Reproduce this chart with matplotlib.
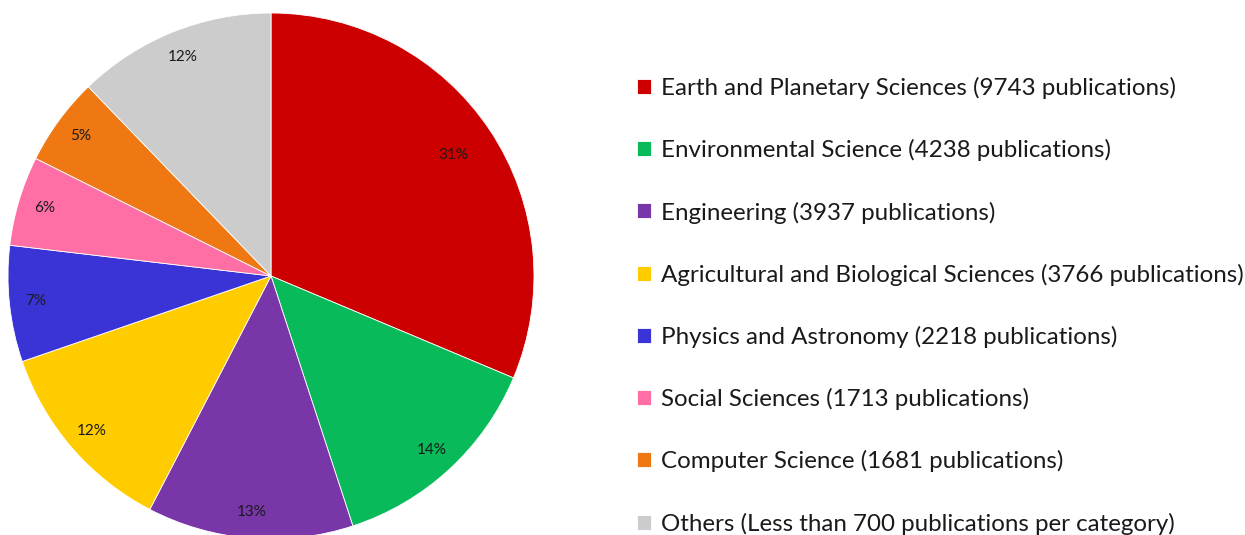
import matplotlib.pyplot as plt

categories = [
    "Earth and Planetary Sciences (9743 publications)",
    "Environmental Science (4238 publications)",
    "Engineering (3937 publications)",
    "Agricultural and Biological Sciences (3766 publications)",
    "Physics and Astronomy (2218 publications)",
    "Social Sciences (1713 publications)",
    "Computer Science (1681 publications)",
    "Others (Less than 700 publications per category)",
]
counts = [9743, 4238, 3937, 3766, 2218, 1713, 1681, 3800]
colors = ["#CC0000", "#08BA5A", "#7836A8", "#FFCC00", "#3A34D6", "#FF6FA6", "#F07812", "#CCCCCC"]

plt.rcParams['font.family'] = ['Lato', 'DejaVu Sans']

fig = plt.figure(figsize=(12.45, 5.35), dpi=100)
ax = fig.add_axes([8 / 1245, -4 / 535, 526 / 1245, 526 / 535])

wedges, texts, autotexts = ax.pie(
    counts, colors=colors, startangle=90, counterclock=False,
    autopct=lambda p: f"{p:.0f}%", pctdistance=0.9,
    wedgeprops=dict(edgecolor="white", linewidth=0.6),
    textprops=dict(fontsize=11, color="#1a1a1a"),
)
# the big slice label sits a bit further in
x, y = autotexts[0].get_position()
autotexts[0].set_position((x * 0.83 / 0.9, y * 0.83 / 0.9))

ax.set_xlim(-1, 1)
ax.set_ylim(-1, 1)
ax.set_aspect("equal")
ax.axis("off")

fig.legend(wedges, categories, loc="upper left", bbox_to_anchor=(637 / 1245, 1 - 77 / 535),
           frameon=False, fontsize=17.4, handlelength=0.58, handleheight=0.58,
           handletextpad=0.4, labelspacing=1.66, borderaxespad=0, borderpad=0,
           labelcolor="#1a1a1a")

fig.savefig("out.png", dpi=100)
